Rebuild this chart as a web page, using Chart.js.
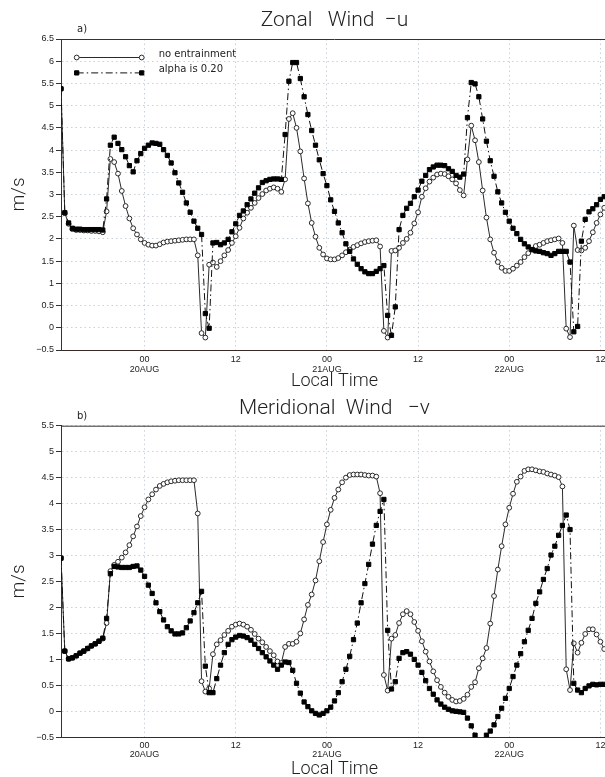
<!DOCTYPE html>
<html><head><meta charset="utf-8">
<script src="https://cdn.jsdelivr.net/npm/chart.js@4.4.1/dist/chart.umd.min.js"></script>
<style>
html,body{margin:0;padding:0;background:#fff;overflow:hidden;width:605px;height:777px;}
#wrap{position:relative;width:605px;height:777px;overflow:hidden;background:#fff;}
canvas{position:absolute;left:0;}
#ca{top:0;}
#cb{top:392px;}
</style></head><body>
<div id="wrap">
<canvas id="ca" width="613" height="392"></canvas>
<canvas id="cb" width="613" height="390"></canvas>
</div>
<script>
// half-hourly samples, local time in hours relative to 20AUG 00
const hourStart = -11;
const hourStep = 0.5;

// Panel a: zonal wind u (m/s)
const uNoEntrain = [
  5.38, 2.58, 2.34, 2.22, 2.20, 2.20, 2.19, 2.19, 2.18, 2.18, 2.17, 2.15,
  2.62, 3.80, 3.73, 3.47, 3.08, 2.74, 2.46, 2.24, 2.10, 1.99, 1.91, 1.87,
  1.85, 1.85, 1.88, 1.92, 1.94, 1.95, 1.96, 1.97, 1.98, 1.99, 1.99, 1.99,
  1.63, -0.12, -0.22, 1.42, 1.47, 1.37, 1.50, 1.63, 1.75, 1.91, 2.06, 2.25,
  2.46, 2.59, 2.70, 2.81, 2.92, 3.01, 3.09, 3.13, 3.16, 3.13, 3.06, 3.34,
  4.70, 4.83, 4.50, 3.97, 3.36, 2.80, 2.36, 2.05, 1.80, 1.65, 1.56, 1.54,
  1.54, 1.57, 1.63, 1.70, 1.76, 1.82, 1.86, 1.90, 1.93, 1.95, 1.96, 1.97,
  1.83, -0.07, -0.22, 1.73, 1.74, 1.80, 1.91, 2.00, 2.14, 2.35, 2.60, 2.95,
  3.14, 3.29, 3.38, 3.45, 3.47, 3.46, 3.41, 3.34, 3.25, 3.10, 2.98, 3.79,
  4.55, 4.22, 3.73, 3.09, 2.48, 1.99, 1.69, 1.48, 1.35, 1.28, 1.28, 1.33,
  1.40, 1.48, 1.59, 1.68, 1.76, 1.84, 1.87, 1.91, 1.95, 1.97, 1.99, 2.01,
  1.91, -0.02, -0.21, 2.30, 1.75, 1.74, 1.80, 1.95, 2.15, 2.36, 2.55, 2.70,
  2.85
];
const uAlpha020 = [
  5.38, 2.59, 2.36, 2.24, 2.22, 2.22, 2.21, 2.21, 2.21, 2.21, 2.21, 2.20,
  2.90, 4.11, 4.29, 4.15, 4.01, 3.85, 3.65, 3.51, 3.76, 3.92, 4.04, 4.11,
  4.16, 4.15, 4.13, 4.01, 3.88, 3.71, 3.49, 3.26, 3.05, 2.81, 2.60, 2.40,
  2.24, 2.10, 0.32, -0.01, 1.91, 1.92, 1.87, 1.91, 1.99, 2.16, 2.34, 2.53,
  2.63, 2.77, 2.90, 3.03, 3.15, 3.27, 3.31, 3.34, 3.35, 3.35, 3.34, 4.35,
  5.55, 5.97, 5.97, 5.61, 5.20, 4.80, 4.44, 4.11, 3.78, 3.47, 3.20, 2.88,
  2.62, 2.36, 2.14, 1.89, 1.72, 1.55, 1.43, 1.33, 1.26, 1.22, 1.22, 1.27,
  1.33, 1.40, 0.28, -0.17, 0.47, 2.21, 2.53, 2.69, 2.80, 2.95, 3.10, 3.30,
  3.43, 3.56, 3.62, 3.66, 3.66, 3.65, 3.58, 3.52, 3.43, 3.39, 3.46, 4.73,
  5.52, 5.49, 5.20, 4.70, 4.20, 3.76, 3.41, 3.06, 2.81, 2.60, 2.40, 2.24,
  2.12, 1.99, 1.89, 1.82, 1.76, 1.73, 1.72, 1.69, 1.67, 1.63, 1.67, 1.72,
  1.72, 1.72, 1.48, -0.09, 0.03, 1.95, 2.44, 2.61, 2.68, 2.77, 2.89, 2.95,
  3.00
];

// Panel b: meridional wind v (m/s)
const vNoEntrain = [
  2.95, 1.16, 1.01, 1.03, 1.07, 1.12, 1.16, 1.21, 1.26, 1.30, 1.35, 1.40,
  1.70, 2.70, 2.82, 2.88, 2.96, 3.06, 3.20, 3.37, 3.56, 3.76, 3.93, 4.08,
  4.18, 4.27, 4.34, 4.38, 4.41, 4.43, 4.44, 4.45, 4.45, 4.45, 4.45, 4.45,
  3.81, 0.58, 0.38, 0.44, 1.10, 1.29, 1.37, 1.47, 1.55, 1.63, 1.67, 1.69,
  1.67, 1.63, 1.57, 1.49, 1.40, 1.33, 1.24, 1.16, 1.08, 0.96, 0.93, 1.24,
  1.30, 1.30, 1.34, 1.50, 1.77, 2.05, 2.25, 2.52, 2.89, 3.26, 3.60, 3.88,
  4.11, 4.27, 4.41, 4.50, 4.55, 4.56, 4.56, 4.56, 4.55, 4.54, 4.54, 4.52,
  4.20, 0.70, 0.40, 1.40, 1.47, 1.70, 1.87, 1.93, 1.87, 1.72, 1.55, 1.35,
  1.15, 0.96, 0.77, 0.60, 0.47, 0.36, 0.28, 0.22, 0.19, 0.20, 0.24, 0.32,
  0.47, 0.56, 0.83, 1.02, 1.22, 1.69, 2.22, 2.73, 3.18, 3.60, 3.92, 4.19,
  4.42, 4.52, 4.63, 4.66, 4.66, 4.64, 4.62, 4.61, 4.58, 4.56, 4.54, 4.51,
  4.33, 0.81, 0.41, 1.31, 1.13, 1.32, 1.49, 1.58, 1.58, 1.48, 1.34, 1.20,
  1.10
];
const vAlpha020 = [
  2.95, 1.16, 1.01, 1.03, 1.07, 1.12, 1.16, 1.21, 1.26, 1.30, 1.35, 1.41,
  1.79, 2.65, 2.79, 2.78, 2.77, 2.77, 2.77, 2.79, 2.80, 2.72, 2.60, 2.43,
  2.27, 2.09, 1.92, 1.76, 1.63, 1.55, 1.49, 1.49, 1.51, 1.61, 1.74, 1.90,
  2.09, 2.31, 0.87, 0.36, 0.36, 0.63, 0.89, 1.13, 1.29, 1.38, 1.43, 1.46,
  1.45, 1.42, 1.37, 1.29, 1.21, 1.13, 1.05, 0.97, 0.89, 0.81, 0.89, 0.95,
  0.94, 0.79, 0.54, 0.35, 0.18, 0.09, 0.01, -0.04, -0.07, -0.04, 0.01, 0.08,
  0.20, 0.36, 0.57, 0.81, 1.06, 1.38, 1.70, 2.09, 2.46, 2.83, 3.22, 3.58,
  3.85, 4.08, 1.56, 0.43, 0.57, 1.02, 1.13, 1.15, 1.10, 1.00, 0.89, 0.75,
  0.59, 0.44, 0.33, 0.22, 0.14, 0.08, 0.04, 0.01, 0.00, -0.01, -0.02, -0.13,
  -0.28, -0.46, -0.58, -0.58, -0.46, -0.38, -0.26, -0.10, 0.06, 0.25, 0.44, 0.67,
  0.89, 1.11, 1.34, 1.56, 1.79, 2.08, 2.30, 2.54, 2.75, 3.01, 3.18, 3.39,
  3.58, 3.78, 3.50, 0.54, 0.41, 0.36, 0.44, 0.49, 0.52, 0.51, 0.52, 0.52,
  0.52
];

const seriesNames = ['no entrainment', 'alpha is 0.20'];
const tickHours = [0, 12, 24, 36, 48, 60];
const tickLabels = [['00', '20AUG'], '12', ['00', '21AUG'], '12', ['00', '22AUG'], '12'];
const panelTitles = ['Zonal   Wind  \u2212u', 'Meridional  Wind   \u2212v'];
const panelTags = ['a)', 'b)'];
const xTitle = 'Local Time';
const yTitle = 'm/s';

const hours = uNoEntrain.map((_, i) => hourStart + i * hourStep);
const toPoints = arr => arr.map((v, i) => ({x: hours[i], y: v}));

Chart.defaults.font.family = '"Liberation Sans", Arial, sans-serif';
Chart.defaults.color = '#222';
const lightFont = 'Roboto, "Liberation Sans", sans-serif';

function drawMarker(ctx, ds, x, y) {
  ctx.beginPath();
  ctx.fillStyle = ds.pointBackgroundColor;
  ctx.strokeStyle = ds.pointBorderColor;
  ctx.lineWidth = ds.pointBorderWidth;
  if (ds.pointStyle === 'rect') {
    const s = Math.SQRT1_2 * ds.pointRadius;
    ctx.rect(x - s, y - s, 2 * s, 2 * s);
  } else {
    ctx.arc(x, y, ds.pointRadius, 0, Math.PI * 2);
  }
  ctx.fill();
  ctx.stroke();
}

const panelDecor = {
  id: 'panelDecor',
  afterDatasetsDraw(chart, args, opts) {
    const {ctx, chartArea: a} = chart;
    ctx.save();
    ctx.setLineDash([]);
    ctx.strokeStyle = '#333';
    ctx.lineWidth = 1;
    ctx.beginPath();
    ctx.moveTo(a.left, a.top + 0.5);
    ctx.lineTo(a.right, a.top + 0.5);
    ctx.stroke();
    ctx.fillStyle = '#222';
    ctx.font = '10px "DejaVu Sans", sans-serif';
    ctx.textAlign = 'left';
    ctx.textBaseline = 'middle';
    ctx.fillText(opts.tag, a.left + 16, a.top - 9.5);
    if (opts.legend) {
      opts.legendOrder.forEach((dsIndex, k) => {
        const ds = chart.data.datasets[dsIndex];
        const y = a.top + 18.5 + k * 15.4;
        const x0 = a.left + 15.7, x1 = a.left + 80.7;
        ctx.save();
        ctx.strokeStyle = ds.borderColor;
        ctx.lineWidth = ds.borderWidth;
        ctx.setLineDash(ds.borderDash || []);
        ctx.beginPath();
        ctx.moveTo(x0, y);
        ctx.lineTo(x1, y);
        ctx.stroke();
        ctx.setLineDash([]);
        drawMarker(ctx, ds, x0, y);
        drawMarker(ctx, ds, x1, y);
        ctx.restore();
        ctx.fillStyle = '#222';
        ctx.fillText(ds.label, a.left + 97.7, y - 3);
      });
    }
    ctx.restore();
  }
};

function makeChart(id, noEnt, alpha, cfg) {
  const datasets = [
    {
      label: seriesNames[0], data: toPoints(noEnt),
      borderColor: '#2a2a2a', borderWidth: 1, tension: 0,
      pointStyle: 'circle', pointRadius: 2.4, pointBackgroundColor: '#fff',
      pointBorderColor: '#2a2a2a', pointBorderWidth: 1, order: 2
    },
    {
      label: seriesNames[1], data: toPoints(alpha),
      borderColor: '#111', borderWidth: 1, borderDash: [7, 3, 1.5, 3], tension: 0,
      pointStyle: 'rect', pointRadius: 3, pointBackgroundColor: '#000',
      pointBorderColor: '#000', pointBorderWidth: 1, order: 1
    }
  ];
  return new Chart(document.getElementById(id), {
    type: 'line',
    data: {datasets},
    options: {
      responsive: false, animation: false, devicePixelRatio: 1, events: [],
      layout: {padding: 0},
      plugins: {
        legend: {display: false}, tooltip: {enabled: false},
        title: {
          display: true, text: cfg.title, fullSize: false, color: '#222',
          font: {size: 21, weight: 300, family: lightFont}, padding: cfg.titlePad
        },
        panelDecor: {tag: cfg.tag, legend: cfg.legend, legendOrder: [0, 1]}
      },
      scales: {
        x: {
          type: 'linear', min: hourStart, max: 61,
          afterBuildTicks: s => { s.ticks = tickHours.map(v => ({value: v})); },
          afterFit: s => { s.height = cfg.xAxisH; },
          ticks: {
            autoSkip: false, maxRotation: 0, padding: cfg.xTickPad, color: '#222',
            font: {size: 9, lineHeight: 1.05},
            callback: v => tickLabels[tickHours.indexOf(v)]
          },
          grid: {drawTicks: false, color: 'rgba(165,178,192,0.6)', lineWidth: 1},
          border: {display: true, color: '#3a2a25', width: 1, dash: [1.5, 3]},
          title: {display: true, text: xTitle, color: '#222', font: {size: 18, weight: 300, family: lightFont}, padding: {top: 0, bottom: cfg.xTitlePad}}
        },
        y: {
          min: -0.5, max: cfg.yMax,
          afterFit: s => { s.width = 61; },
          ticks: {
            stepSize: 0.5, padding: 2, color: '#222', font: {size: 9},
            callback: v => (v < 0 ? '\u2212' + Math.abs(v) : String(v))
          },
          grid: {drawTicks: true, tickLength: 5, tickColor: '#333', color: 'rgba(165,178,192,0.6)', lineWidth: 1},
          border: {display: true, color: '#333', width: 1, dash: [1.5, 3]},
          title: {display: true, text: yTitle, color: '#222', font: {size: 19, weight: 300, family: lightFont}, padding: {top: 8, bottom: 0}}
        }
      }
    },
    plugins: [panelDecor]
  });
}

makeChart('ca', uNoEntrain, uAlpha020, {
  title: panelTitles[0], tag: panelTags[0], legend: true, yMax: 6.5,
  titlePad: {top: 8, bottom: 5.8}, xAxisH: 42, xTickPad: 5, xTitlePad: 0.2
});
makeChart('cb', vNoEntrain, vAlpha020, {
  title: panelTitles[1], tag: panelTags[1], legend: false, yMax: 5.5,
  titlePad: {top: 4, bottom: 4.5}, xAxisH: 44.7, xTickPad: 3.5, xTitlePad: 2.2
});
</script>
</body></html>
